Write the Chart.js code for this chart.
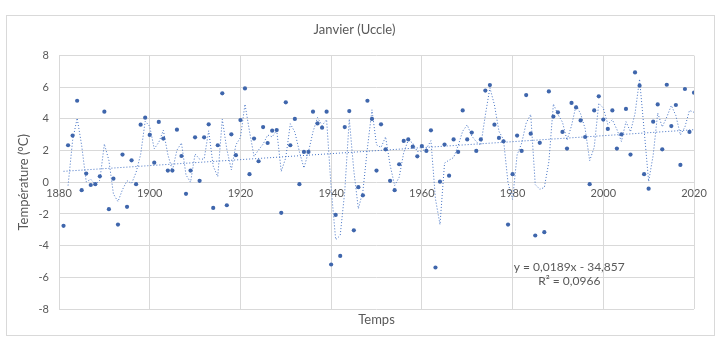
<!DOCTYPE html>
<html>
<head>
<meta charset="utf-8">
<script src="https://cdn.jsdelivr.net/npm/chart.js@4"></script>
<style>
  html, body { margin: 0; padding: 0; background: #fff; }
  #box {
    position: absolute; left: 6px; top: 15px;
    width: 707px; height: 319px;
    border: 1px solid #d9d9d9;
  }
</style>
</head>
<body>
<div id="box"><canvas id="chart" width="707" height="319"></canvas></div>
<script>
// Janvier, Uccle : temperature moyenne (°C) par annee
var years = [];
for (var yr = 1881; yr <= 2020; yr++) years.push(yr);

var temps = [
  -2.75, 2.34, 2.95, 5.15, -0.50, 0.55, -0.17, -0.12, 0.38, 4.46,   // 1881-1890
  -1.70, 0.23, -2.67, 1.75, -1.55, 1.39, -0.12, 3.64, 4.08, 2.99,   // 1891-1900
  1.24, 3.81, 2.76, 0.74, 0.74, 3.32, 1.66, -0.73, 0.74, 2.84,      // 1901-1910
  0.09, 2.84, 3.66, -1.62, 2.34, 5.62, -1.45, 3.03, 1.71, 3.93,     // 1911-1920
  5.93, 0.51, 2.76, 1.33, 3.49, 2.48, 3.26, 3.30, -1.93, 5.05,      // 1921-1930
  2.34, 4.00, -0.12, 1.92, 1.92, 4.46, 3.72, 3.45, 4.46, -5.19,     // 1931-1940
  -2.06, -4.65, 3.49, 4.50, -3.03, -0.31, -0.82, 5.15, 4.00, 0.74,  // 1941-1950
  3.66, 2.08, 0.09, -0.50, 1.14, 2.61, 2.71, 2.25, 1.64, 2.29,      // 1951-1960
  1.98, 3.28, -5.38, 0.04, 2.38, 0.42, 2.71, 1.92, 4.54, 2.71,      // 1961-1970
  3.14, 1.98, 2.71, 5.79, 6.14, 3.64, 2.80, 2.59, -2.67, 0.51,      // 1971-1980
  2.95, 1.98, 5.51, 3.07, -3.36, 2.49, -3.15, 5.74, 4.15, 4.42,     // 1981-1990
  3.18, 2.13, 5.01, 4.73, 3.91, 2.86, -0.12, 4.54, 5.43, 3.96,      // 1991-2000
  3.37, 4.54, 2.13, 3.03, 4.63, 1.75, 6.94, 6.10, 0.51, -0.40,      // 2001-2010
  3.83, 4.92, 2.08, 6.16, 3.55, 4.88, 1.10, 5.89, 3.18, 5.66        // 2011-2020
];

// courbe de tendance lineaire (affichee sur le graphique)
var slope = 0.0189;
var intercept = -34.857;
var equationLines = ['y = 0,0189x - 34,857', 'R² = 0,0966'];

var xTicks = [1880, 1900, 1920, 1940, 1960, 1980, 2000, 2020];
var yTicks = [-8, -6, -4, -2, 0, 2, 4, 6, 8];

var textColor = '#595959';
var gridColor = '#d9d9d9';
var blue = '#4472c4';
var dotBlue = '#3f66ac';
var fontFamily = 'Lato, "Open Sans", sans-serif';

var points = years.map(function (y, i) { return {x: y, y: temps[i]}; });

// moyenne mobile sur 2 periodes
var movingAvg = [];
for (var i = 1; i < temps.length; i++) {
  movingAvg.push({x: years[i], y: (temps[i - 1] + temps[i]) / 2});
}

var first = years[0], last = years[years.length - 1];
var trend = [
  {x: first, y: slope * first + intercept},
  {x: last, y: slope * last + intercept}
];

var equationPlugin = {
  id: 'equation',
  afterDatasetsDraw: function (chart) {
    var ctx = chart.ctx;
    var px = chart.scales.x.getPixelForValue(1992.5);
    var py = chart.scales.y.getPixelForValue(-5.36);
    ctx.save();
    ctx.fillStyle = textColor;
    ctx.font = '12px ' + fontFamily;
    ctx.textAlign = 'center';
    ctx.textBaseline = 'middle';
    equationLines.forEach(function (line, k) {
      ctx.fillText(line, px, py + k * 14);
    });
    ctx.restore();
  }
};

var ctx = document.getElementById('chart').getContext('2d');
new Chart(ctx, {
  type: 'scatter',
  data: {
    datasets: [{
      label: 'Janvier',
      data: points,
      backgroundColor: dotBlue,
      borderColor: dotBlue,
      pointRadius: 2.1,
      pointBorderWidth: 0,
      order: 1
    }, {
      label: 'Moyenne mobile',
      type: 'line',
      data: movingAvg,
      borderColor: blue,
      borderWidth: 1,
      borderDash: [1, 2],
      pointRadius: 0,
      tension: 0,
      fill: false,
      order: 2
    }, {
      label: 'Linéaire',
      type: 'line',
      data: trend,
      borderColor: blue,
      borderWidth: 1,
      borderDash: [1, 2],
      pointRadius: 0,
      fill: false,
      order: 3
    }]
  },
  options: {
    responsive: false,
    animation: false,
    layout: { padding: {top: 6, right: 20, bottom: 4, left: 8} },
    plugins: {
      legend: { display: false },
      tooltip: { enabled: false },
      title: {
        display: true,
        text: 'Janvier (Uccle)',
        color: textColor,
        font: { family: fontFamily, size: 13, weight: 'normal' },
        padding: { top: 0, bottom: 18 }
      }
    },
    scales: {
      x: {
        type: 'linear',
        min: 1880, max: 2020,
        afterBuildTicks: function (s) { s.ticks = xTicks.map(function (v) { return {value: v}; }); },
        afterFit: function (s) { s.height = 22; },
        ticks: { display: false },
        grid: { color: gridColor, drawTicks: false },
        border: { display: false },
        title: {
          display: true, text: 'Temps', color: textColor,
          font: { family: fontFamily, size: 13 },
          padding: { top: 0, bottom: 3 }
        }
      },
      x2: {
        type: 'linear',
        position: { y: 0 },
        min: 1880, max: 2020,
        afterBuildTicks: function (s) { s.ticks = xTicks.map(function (v) { return {value: v}; }); },
        ticks: {
          color: textColor, padding: 5,
          font: { family: fontFamily, size: 11 },
          callback: function (v) { return String(v); }
        },
        grid: { display: false, drawTicks: false },
        border: { display: false }
      },
      y: {
        min: -8, max: 8,
        afterBuildTicks: function (s) { s.ticks = yTicks.map(function (v) { return {value: v}; }); },
        afterFit: function (s) { s.width = 44; },
        ticks: {
          color: textColor, padding: 10,
          font: { family: fontFamily, size: 11 }
        },
        grid: { color: gridColor, drawTicks: false },
        border: { display: false },
        title: {
          display: true, text: 'Température (°C)', color: textColor,
          font: { family: fontFamily, size: 13 },
          padding: { top: 1, bottom: 0 }
        }
      }
    }
  },
  plugins: [equationPlugin]
});
</script>
</body>
</html>
